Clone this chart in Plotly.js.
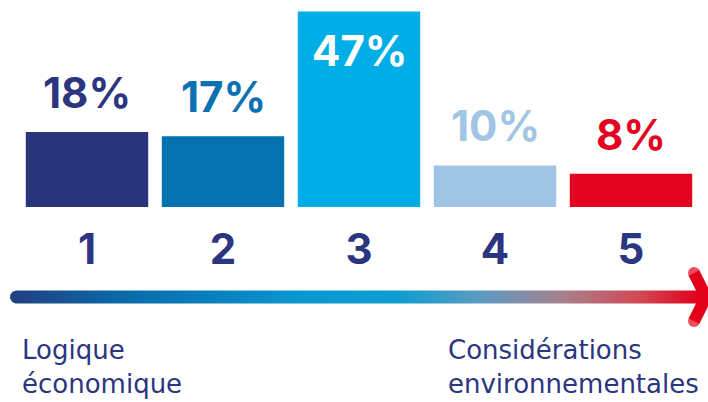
<!DOCTYPE html>
<html>
<head>
<meta charset="utf-8">
<script src="https://cdn.plot.ly/plotly-3.0.1.min.js"></script>
<style>
  html, body { margin: 0; padding: 0; background: #ffffff; }
  #chart { width: 708px; height: 402px; }
</style>
</head>
<body>
<div id="chart"></div>
<script>
// ---- data ----
const categories = [1, 2, 3, 4, 5];
const tickLabels = ["1", "2", "3", "4", "5"];
const values = [18, 17, 47, 10, 8];
const barColors = ["#2a347b", "#0571b1", "#00ade7", "#a0c4e3", "#e3051f"];
const labelColors = ["#2b3580", "#0b71b3", "#ffffff", "#a2c5e4", "#e3051f"];
const leftLabel = "Logique<br>économique";
const rightLabel = "Considérations<br>environnementales";

const W = 708, H = 402;
const navy = "#2b3580";

// geometry (pixels)
const unitPx = 136;          // px per category
const x1Px = 87;             // centre of category 1
const baselinePx = 207;      // y pixel of value 0
const pxPerUnit = 4.16;      // px per percentage point

const xRange = [1 - x1Px / unitPx, 1 + (W - x1Px) / unitPx];
const yDomain = [(H - baselinePx) / H, 1];
const yRange = [0, baselinePx / pxPerUnit];

const maxVal = Math.max(...values);

const annotations = values.map((v, i) => {
  const inside = v === maxVal;
  return {
    x: categories[i], y: v, xref: "x", yref: "y",
    text: v + "%",
    showarrow: false,
    xanchor: "center",
    yanchor: inside ? "top" : "bottom",
    yshift: inside ? -12 : 12,
    font: { family: "Inter, sans-serif", size: 42, weight: 700, color: labelColors[i] }
  };
});

annotations.push({
  x: 20 / W, y: 1 - 333 / H, xref: "paper", yref: "paper",
  text: leftLabel, showarrow: false, align: "left",
  xanchor: "left", yanchor: "top",
  font: { family: "DejaVu Sans, sans-serif", size: 26, color: navy }
});
annotations.push({
  x: 446 / W, y: 1 - 333 / H, xref: "paper", yref: "paper",
  text: rightLabel, showarrow: false, align: "left",
  xanchor: "left", yanchor: "top",
  font: { family: "DejaVu Sans, sans-serif", size: 26, color: navy }
});

// ---- arrow body (gradient, rounded left end), in pixel space of x2/y2 ----
const arrowY = 297, arrowR = 6.5, arrowL = 16.5, arrowRight = 700;
const ax = [], ay = [];
for (let k = 0; k <= 20; k++) {
  const a = Math.PI / 2 + Math.PI * k / 20;
  ax.push(arrowL + arrowR * Math.cos(a));
  ay.push(arrowY - arrowR * Math.sin(a));
}
ax.push(arrowRight, arrowRight, ax[0]);
ay.push(arrowY + arrowR, arrowY - arrowR, ay[0]);

const arrowBody = {
  type: "scatter", mode: "lines", x: ax, y: ay,
  xaxis: "x2", yaxis: "y2",
  fill: "toself", line: { width: 0, color: "rgba(0,0,0,0)" },
  fillgradient: {
    type: "horizontal",
    colorscale: [
      [0, "#213f80"], [0.16, "#0a69a8"], [0.42, "#0a97d0"], [0.56, "#0e9dd0"],
      [0.68, "#5a9bc2"], [0.80, "#a8808f"], [0.91, "#d04a55"], [1, "#e2001a"]
    ]
  },
  hoverinfo: "skip", showlegend: false
};

const chevron = {
  type: "scatter", mode: "lines+markers",
  x: [694, 706, 694], y: [273, 297, 321],
  xaxis: "x2", yaxis: "y2",
  line: { width: 12, color: "#e2001a" },
  marker: { size: [12, 0, 12], color: "#e2001a", line: { width: 0 } },
  hoverinfo: "skip", showlegend: false
};

const bars = {
  type: "bar", x: categories, y: values,
  marker: { color: barColors, line: { width: 0 } },
  width: 0.9,
  hoverinfo: "skip", showlegend: false
};

const layout = {
  width: W, height: H,
  margin: { l: 0, r: 0, t: 0, b: 0, pad: 0 },
  paper_bgcolor: "#ffffff", plot_bgcolor: "rgba(0,0,0,0)",
  showlegend: false,
  xaxis: {
    domain: [0, 1], range: xRange, showgrid: false, zeroline: false, showline: false,
    tickmode: "array", tickvals: categories, ticktext: tickLabels, ticks: "",
    ticklabelstandoff: 14,
    tickfont: { family: "Inter, sans-serif", size: 42, weight: 700, color: navy },
    fixedrange: true
  },
  yaxis: {
    domain: yDomain, range: yRange, showgrid: false, zeroline: false, showline: false,
    showticklabels: false, ticks: "", fixedrange: true
  },
  xaxis2: {
    domain: [0, 1], range: [0, W], anchor: "y2", visible: false, fixedrange: true
  },
  yaxis2: {
    domain: [0, 1], range: [H, 0], anchor: "x2", visible: false, fixedrange: true
  },
  annotations: annotations
};

Plotly.newPlot("chart", [bars, arrowBody, chevron], layout, { displayModeBar: false, staticPlot: true });
</script>
</body>
</html>
